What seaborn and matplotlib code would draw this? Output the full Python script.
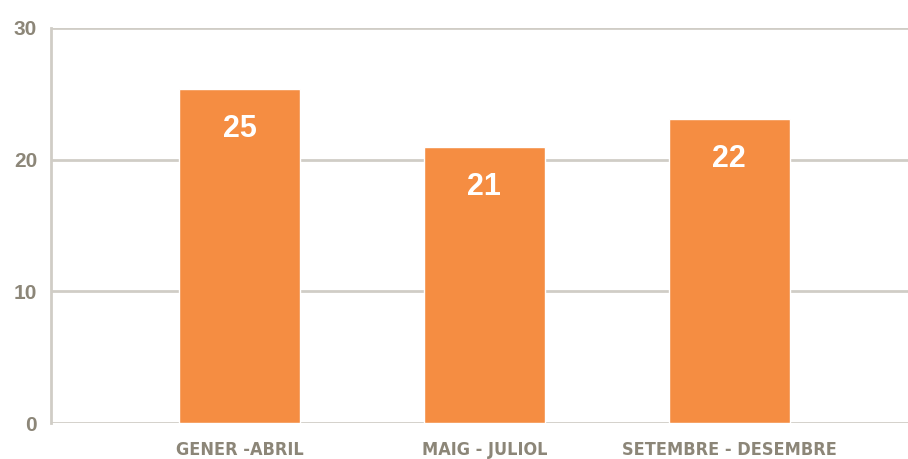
# Bar chart: number per period (GENER-ABRIL, MAIG-JULIOL, SETEMBRE-DESEMBRE)
import matplotlib
matplotlib.use("Agg")
import matplotlib.pyplot as plt
import seaborn as sns
import pandas as pd

# data
periods = ["GENER -ABRIL", "MAIG - JULIOL", "SETEMBRE - DESEMBRE"]
heights = [25.4, 21.0, 23.1]
labels = ["25", "21", "22"]
yticks = [0, 10, 20, 30]

df = pd.DataFrame({"period": periods, "value": heights})

sns.set_style("white")
plt.rcParams["font.family"] = ["DejaVu Sans"]

grey = "#8c8678"
line = "#d0cdc6"
orange = "#f58d42"

fig = plt.figure(figsize=(9.08, 4.59), dpi=100)
ax = fig.add_axes([0.0562, 0.0784, 0.9438, 0.8606])

sns.barplot(data=df, x="period", y="value", color=orange, saturation=1,
            width=0.495, ax=ax, zorder=3)

# value labels inside bars
for i, (h, lab) in enumerate(zip(heights, labels)):
    ax.annotate(lab, (i, h), xytext=(0, -29), textcoords="offset points",
                ha="center", va="center", color="white", fontsize=22,
                fontweight="bold", family=["Liberation Sans", "DejaVu Sans"])

ax.set_ylim(0, 30)
ax.set_xlim(-0.77, 2.73)
ax.set_yticks(yticks)
ax.set_yticklabels([str(t) for t in yticks], fontsize=15, fontweight="bold",
                   color=grey, family=["Liberation Sans", "DejaVu Sans"])
ax.set_xticks(range(len(periods)))
ax.set_xticklabels(periods, fontsize=13, fontweight="bold", color=grey,
                   fontstretch="condensed")
ax.tick_params(axis="both", length=0)
ax.tick_params(axis="y", pad=10)
ax.tick_params(axis="x", pad=13)
ax.yaxis.grid(True, color=line, linewidth=2)
ax.set_axisbelow(True)
ax.set_xlabel("")
ax.set_ylabel("")

for s in ["top", "right", "bottom"]:
    ax.spines[s].set_visible(False)
ax.spines["left"].set_color(line)
ax.spines["left"].set_linewidth(2)

plt.savefig("out.png", dpi=100)
plt.close()
